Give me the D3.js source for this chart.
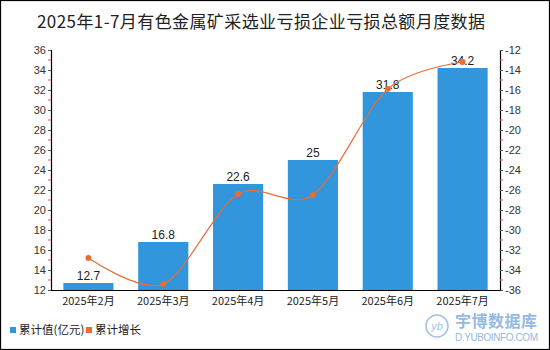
<!DOCTYPE html>
<html>
<head>
<meta charset="utf-8">
<script src="https://cdn.jsdelivr.net/npm/d3@7/dist/d3.min.js"></script>
<style>
  html, body { margin: 0; padding: 0; background: #fff; }
  svg { display: block; font-family: "Liberation Sans", Arial, "Noto Sans CJK SC", sans-serif; }
</style>
</head>
<body>
<svg id="chart" width="550" height="350"></svg>
<script>
// Monthly figures, Jan–Jul 2025
const categories = ["2025年2月", "2025年3月", "2025年4月", "2025年5月", "2025年6月", "2025年7月"];
const cumulativeValue = [12.7, 16.8, 22.6, 25, 31.8, 34.2];      // 亿元
const cumulativeGrowth = [-32.8, -35.4, -26.4, -26.5, -15.9, -13.2]; // %
const leftTicks = [12, 14, 16, 18, 20, 22, 24, 26, 28, 30, 32, 34, 36];
const rightTicks = [-36, -34, -32, -30, -28, -26, -24, -22, -20, -18, -16, -14, -12];
const titleText = "2025年1-7月有色金属矿采选业亏损企业亏损总额月度数据";
const legendLabels = ["累计值(亿元)", "累计增长"];

const W = 550, H = 350;
const margin = { left: 51, right: 50, top: 50, bottom: 60 };
const plotL = margin.left, plotR = W - margin.right, plotT = margin.top, plotB = H - margin.bottom;

const barColor = "#3296DD";
const lineColor = "#EA6C34";
const cjk = "\"Noto Sans CJK SC\", \"Liberation Sans\", sans-serif";

const svg = d3.select("#chart");

// outer frame
svg.append("rect").attr("x", 0.5).attr("y", 0.5).attr("width", W - 1).attr("height", H - 1)
  .attr("fill", "#fff").attr("stroke", "#000").attr("stroke-width", 1.2);

// title
svg.append("text").attr("x", 37).attr("y", 28)
  .style("font-family", cjk).style("font-size", "17px").attr("fill", "#222")
  .attr("textLength", 448).attr("lengthAdjust", "spacing")
  .text(titleText);

const x = d3.scaleBand().domain(categories).range([plotL, plotR]).paddingInner(0.33).paddingOuter(0.165);
const yL = d3.scaleLinear().domain([12, 36]).range([plotB, plotT]);
const yR = d3.scaleLinear().domain([-36, -12]).range([plotB, plotT]);

// bars
svg.append("g").selectAll("rect").data(cumulativeValue).join("rect")
  .attr("x", (d, i) => x(categories[i]))
  .attr("y", d => yL(d))
  .attr("width", x.bandwidth())
  .attr("height", d => plotB - yL(d))
  .attr("fill", barColor);

// value labels
svg.append("g").selectAll("text").data(cumulativeValue).join("text")
  .attr("x", (d, i) => x(categories[i]) + x.bandwidth() / 2)
  .attr("y", d => yL(d) - 3)
  .attr("text-anchor", "middle")
  .style("font-size", "12px").attr("fill", "#222")
  .text(d => d);

// growth line
const line = d3.line()
  .x((d, i) => x(categories[i]) + x.bandwidth() / 2)
  .y(d => yR(d))
  .curve(d3.curveCardinal.tension(0.1));
svg.append("path").datum(cumulativeGrowth)
  .attr("d", line).attr("fill", "none").attr("stroke", lineColor).attr("stroke-width", 1.2);
svg.append("g").selectAll("circle").data(cumulativeGrowth).join("circle")
  .attr("cx", (d, i) => x(categories[i]) + x.bandwidth() / 2)
  .attr("cy", d => yR(d)).attr("r", 3).attr("fill", lineColor);

// left axis
const axL = svg.append("g").attr("transform", `translate(${plotL},0)`)
  .call(d3.axisLeft(yL).tickValues(leftTicks).tickSize(3).tickPadding(2).tickFormat(d3.format("d")));
// right axis
const axR = svg.append("g").attr("transform", `translate(${plotR},0)`)
  .call(d3.axisRight(yR).tickValues(rightTicks).tickSize(3).tickPadding(2).tickFormat(d => String(d).replace("−", "-")));
[axL, axR].forEach(ax => {
  ax.select(".domain").attr("stroke", "#000").attr("stroke-width", 1.2);
  ax.selectAll(".tick line").attr("stroke", "#555");
  ax.selectAll(".tick text").style("font-size", "11px").attr("fill", "#333")
    .style("font-family", "\"Liberation Sans\", Arial, sans-serif");
});
// red minor ticks at the odd values
const minorL = d3.range(13, 36, 2);
svg.append("g").selectAll("line").data(minorL).join("line")
  .attr("x1", plotL - 3).attr("x2", plotL).attr("y1", d => yL(d)).attr("y2", d => yL(d))
  .attr("stroke", "#e55").attr("stroke-width", 1);
const minorR = d3.range(-35, -12, 2);
svg.append("g").selectAll("line").data(minorR).join("line")
  .attr("x1", plotR).attr("x2", plotR + 3).attr("y1", d => yR(d)).attr("y2", d => yR(d))
  .attr("stroke", "#e55").attr("stroke-width", 1);

// bottom axis
const axB = svg.append("g").attr("transform", `translate(0,${plotB})`)
  .call(d3.axisBottom(x).tickSize(0).tickPadding(7));
axB.select(".domain").attr("stroke", "#000").attr("stroke-width", 1.2);
axB.selectAll(".tick text").style("font-size", "11px").attr("fill", "#222").style("font-family", cjk);

// legend
const legend = svg.append("g").attr("transform", "translate(10,333)");
const legendItems = [
  { label: legendLabels[0], color: barColor, x: 0 },
  { label: legendLabels[1], color: lineColor, x: 76 }
];
legendItems.forEach(it => {
  legend.append("rect").attr("x", it.x).attr("y", -6).attr("width", 6).attr("height", 6).attr("fill", it.color);
  legend.append("text").attr("x", it.x + 9).attr("y", 0.5).style("font-family", cjk)
    .style("font-size", "11.5px").attr("fill", "#222").text(it.label);
});

// site mark
const mark = svg.append("g").attr("opacity", 0.75);
mark.append("circle").attr("cx", 437).attr("cy", 326).attr("r", 11)
  .attr("fill", "none").attr("stroke", "#7FAEDD").attr("stroke-width", 1.5);
mark.append("text").attr("x", 437).attr("y", 330).attr("text-anchor", "middle")
  .style("font-size", "11px").style("font-style", "italic").attr("fill", "#7FAEDD").text("yb");
mark.append("text").attr("x", 455).attr("y", 327).style("font-family", cjk)
  .style("font-size", "16px").style("font-weight", "bold").attr("fill", "#6FA3DA")
  .attr("textLength", 82).text("宇博数据库");
mark.append("text").attr("x", 455).attr("y", 341)
  .style("font-size", "10px").attr("fill", "#6FA3DA").attr("textLength", 83).text("D.YUBOINFO.COM");
</script>
</body>
</html>
